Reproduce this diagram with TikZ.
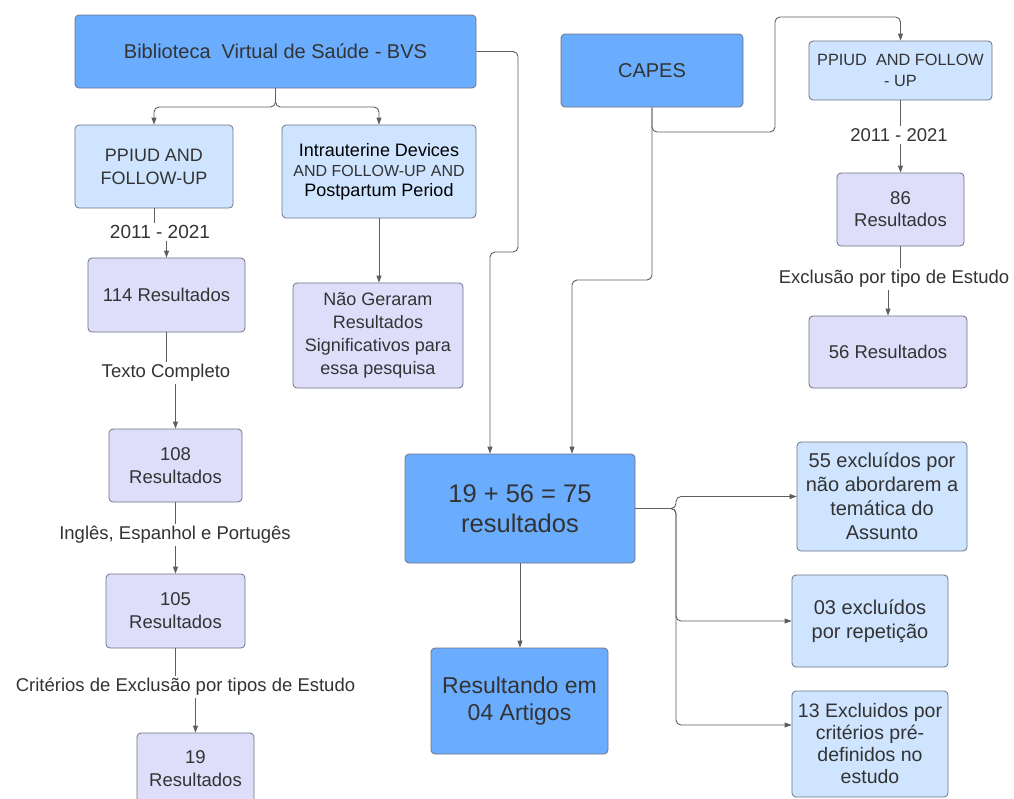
\documentclass[tikz,border=0pt]{standalone}
\usepackage{fontspec}
\setmainfont{Liberation Sans}
\usetikzlibrary{arrows.meta}
\definecolor{darkblue}{HTML}{6AADFF}
\definecolor{lightblue}{HTML}{CFE4FF}
\definecolor{lavender}{HTML}{DEDEFB}
\definecolor{bordergray}{HTML}{6E7484}
\definecolor{linegray}{HTML}{5E5E5E}
\definecolor{textgray}{HTML}{333333}
\newcommand\myfs[2]{\fontsize{#1pt}{#2pt}\selectfont}
\tikzset{
  box/.style={draw=bordergray, line width=0.8pt, rounded corners=4pt, align=center, text=textgray, inner sep=0pt},
  dark/.style={box, fill=darkblue},
  light/.style={box, fill=lightblue},
  lav/.style={box, fill=lavender},
  conn/.style={draw=linegray, line width=0.9pt, rounded corners=5pt},
  arr/.style={conn, -{Triangle[length=7pt,width=5pt]}},
  lab/.style={text=textgray, inner sep=2pt, align=center, font=\myfs{18.5}{22}}
}
\begin{document}
\begin{tikzpicture}[x=1pt,y=-1pt]
\useasboundingbox (0,0) rectangle (1014,798);
\clip (0,0) rectangle (1014,798);
\fill[white] (0,0) rectangle (1014,798);

% left column
\node[dark, minimum width=401pt, minimum height=73pt, font=\myfs{20}{24}] (bvs) at (275.5,51.5) {Biblioteca\ \ Virtual de Saúde - BVS};
\node[light, minimum width=158pt, minimum height=83pt, font=\myfs{18}{23}] (ppiud1) at (154,166.5) {PPIUD AND\\FOLLOW-UP};
\node[light, minimum width=194pt, minimum height=93pt, font=\myfs{18}{20}] (intra) at (379,171.5) {\color{black}Intrauterine Devices\\{\myfs{16}{20}AND FOLLOW-UP AND}\\\color{black}Postpartum Period};
\node[lav, minimum width=157pt, minimum height=74pt, font=\myfs{18.5}{23}] (r114) at (166.5,295) {114 Resultados};
\node[lav, minimum width=170pt, minimum height=105pt, font=\myfs{18}{23}] (nao) at (378,335.5) {Não Geraram\\Resultados\\Significativos para\\essa pesquisa};
\node[lav, minimum width=133pt, minimum height=73pt, font=\myfs{18.5}{23}] (r108) at (175.5,465.5) {108\\Resultados};
\node[lav, minimum width=139pt, minimum height=74pt, font=\myfs{18.5}{23}] (r105) at (175.5,611) {105\\Resultados};
\node[lav, minimum width=117pt, minimum height=72pt, font=\myfs{18.5}{23}] (r19) at (195.5,769) {19\\Resultados};

\node[lab, font=\myfs{19}{22}] (lab1) at (160,232) {2011 - 2021};
\node[lab] (lab2) at (166,373) {Texto Completo};
\node[lab] (lab3) at (175,535) {Inglês, Espanhol e Portugês};
\node[lab] (lab4) at (185.5,687) {Critérios de Exclusão por tipos de Estudo};

% right column
\node[dark, minimum width=182pt, minimum height=73pt, font=\myfs{20}{24}] (capes) at (652,70.5) {CAPES};
\node[light, minimum width=183pt, minimum height=59pt, font=\myfs{16.3}{21}] (ppiud2) at (900.5,70.5) {PPIUD\ \ AND FOLLOW\\- UP};
\node[lav, minimum width=127pt, minimum height=73pt, font=\myfs{18.5}{22}] (r86) at (900.5,209.5) {86\\Resultados};
\node[lav, minimum width=158pt, minimum height=72pt, font=\myfs{18.5}{22}] (r56) at (888,352) {56 Resultados};
\node[lab] (lab5) at (899,135) {2011 - 2021};
\node[lab] (lab6) at (894,279) {Exclusão por tipo de Estudo};

% bottom middle
\node[dark, minimum width=230pt, minimum height=109pt, font=\myfs{25.5}{30}] (big) at (520,508.5) {19 + 56 = 75\\resultados};
\node[dark, minimum width=177pt, minimum height=106pt, font=\myfs{23}{27}] (res) at (519.5,701) {Resultando em\\04 Artigos};
\node[light, minimum width=170pt, minimum height=109pt, font=\myfs{20}{24}] (b55) at (882,496.5) {55 excluídos por\\não abordarem a\\temática do\\Assunto};
\node[light, minimum width=156pt, minimum height=92pt, font=\myfs{20}{24}] (b03) at (870,621) {03 excluídos\\por repetição};
\node[light, minimum width=156pt, minimum height=106pt, font=\myfs{19.5}{22}] (b13) at (870,744) {13 Excluidos por\\critérios pré-\\definidos no\\estudo};

% coordinates
\coordinate (s1) at (275.5,107);
\coordinate (c1) at (518,252);
\coordinate (c2) at (652,132);
\coordinate (c3) at (775,17);
\coordinate (c4) at (652,280);
\coordinate (j) at (676,508.5);

% connectors
\draw[arr] (bvs.south) -- (s1) -| (ppiud1.north);
\draw[arr] (bvs.south) -- (s1) -| (intra.north);
\draw[arr] (bvs.east) -| (c1) -| ([xshift=-30pt]big.north);
\draw[arr] (intra.south) -- (intra.south |- nao.north);

\draw[conn] (ppiud1.south) -- (ppiud1.south |- lab1.north);
\draw[arr] (lab1.south -| r114.north) -- (r114.north);
\draw[conn] (r114.south) -- (r114.south |- lab2.north);
\draw[arr] (lab2.south -| r108.north) -- (r108.north);
\draw[conn] (r108.south) -- (r108.south |- lab3.north);
\draw[arr] (lab3.south -| r105.north) -- (r105.north);
\draw[conn] (r105.south) -- (r105.south |- lab4.north);
\draw[arr] (lab4.south -| r19.north) -- (r19.north);

\draw[arr] (capes.south) -- (c2) -| (c3) -| (ppiud2.north);
\draw[arr] (capes.south) -- (c4) -| ([xshift=52pt]big.north);
\draw[conn] (ppiud2.south) -- (ppiud2.south |- lab5.north);
\draw[arr] (lab5.south -| r86.north) -- (r86.north);
\draw[conn] (r86.south) -- (r86.south |- lab6.north);
\draw[arr] (lab6.south -| r56.north) -- (r56.north);

\draw[arr] (big.south) -- (big.south |- res.north);
\draw[arr] (big.east) -- (j) |- (b55.west);
\draw[arr] (big.east) -- (j) |- (b03.west);
\draw[arr] (big.east) -- (j) |- ([yshift=19pt]b13.west);
\end{tikzpicture}
\end{document}
